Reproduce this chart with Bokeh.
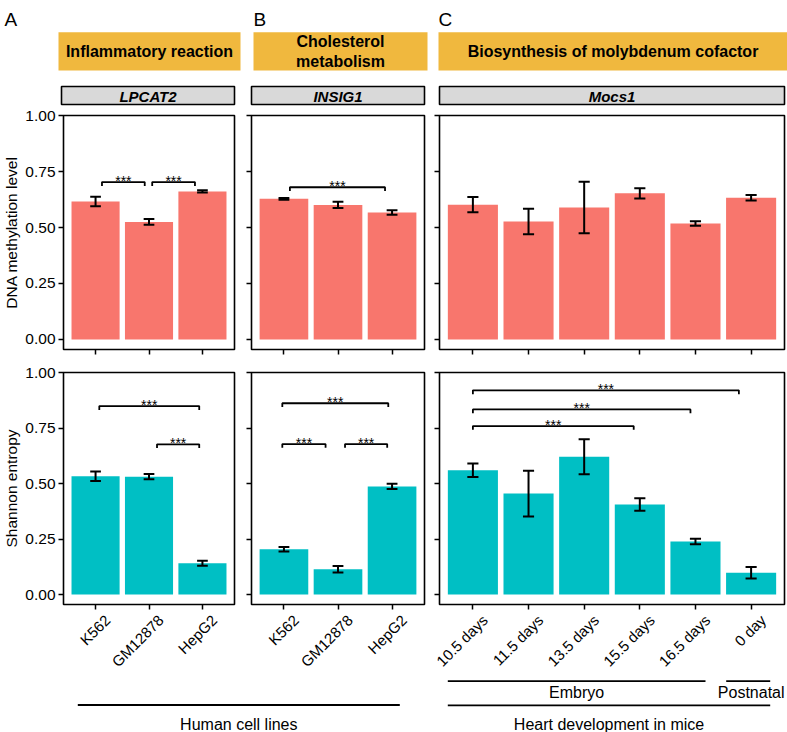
import math
from bokeh.plotting import figure
from bokeh.models import (Range1d, FixedTicker, NumeralTickFormatter, CustomLabelingPolicy,
                          LinearAxis)
from bokeh.layouts import column, row
from bokeh.embed import file_html
from bokeh.resources import INLINE
from bokeh.core.properties import value

FONT = "Liberation Sans"
SALMON = "#F8766D"
TEAL = "#00BFC4"
ORANGE = "#F0B83E"
STRIP = "#D9D9D9"

# ---------------- data ----------------
cell_lines = ["K562", "GM12878", "HepG2"]
stages = ["10.5 days", "11.5 days", "13.5 days", "15.5 days", "16.5 days", "0 day"]

a_meth = [0.616, 0.525, 0.661]
a_meth_err = [0.021, 0.013, 0.005]
a_ent = [0.533, 0.531, 0.141]
a_ent_err = [0.021, 0.012, 0.011]

b_meth = [0.628, 0.601, 0.567]
b_meth_err = [0.004, 0.014, 0.010]
b_ent = [0.204, 0.114, 0.487]
b_ent_err = [0.010, 0.015, 0.012]

c_meth = [0.602, 0.527, 0.589, 0.653, 0.518, 0.633]
c_meth_err = [0.034, 0.057, 0.115, 0.023, 0.010, 0.012]
c_ent = [0.560, 0.455, 0.621, 0.406, 0.239, 0.098]
c_ent_err = [0.030, 0.103, 0.079, 0.028, 0.012, 0.026]

# significance brackets: (start, end, height) in category units / value units
a_meth_sig = [(1.12, 1.92, 0.703), (2.06, 2.86, 0.703)]
a_ent_sig = [(1.07, 2.94, 0.849), (2.15, 2.94, 0.677)]
b_meth_sig = [(1.11, 2.87, 0.680)]
b_ent_sig = [(0.97, 2.93, 0.862), (0.97, 1.77, 0.678), (2.13, 2.91, 0.678)]
c_meth_sig = []
c_ent_sig = [(1.0, 5.78, 0.920), (1.0, 4.91, 0.834), (1.0, 3.89, 0.759)]

y_ticks = [0.0, 0.25, 0.5, 0.75, 1.0]

headers = ["Inflammatory reaction", "Cholesterol\nmetabolism", "Biosynthesis of molybdenum cofactor"]
genes = ["LPCAT2", "INSIG1", "Mocs1"]
letters = ["A", "B", "C"]

# ---------------- layout constants ----------------
TOTAL_W = 787
A_LB, A_FW, A_RB = 61, 173, 2
B_LB, B_FW, B_RB = 15, 173, 2
C_LB, C_FW, C_RB = 13, 345, 2
A_W = A_LB + A_FW + A_RB
B_W = B_LB + B_FW + B_RB
C_W = C_LB + C_FW + C_RB
FRAMES = [(A_LB, A_LB + A_FW),
          (A_W + B_LB, A_W + B_LB + B_FW),
          (A_W + B_W + C_LB, A_W + B_W + C_LB + C_FW)]

FRAME_H = 234
TOP_TB, TOP_BB = 8, 11
BOT_TB, BOT_BB = 12, 73
HDR_H = 107
FTR_H = 732 - HDR_H - (TOP_TB + FRAME_H + TOP_BB) - (BOT_TB + FRAME_H + BOT_BB)
Y0 = -0.045
LABEL_SHIFT_PX = 12  # rotated tick labels sit to the right of their ticks


def panel(cats, vals, errs, sigs, color, width, lb, rb, fw, ylab, bottom_row):
    n = len(cats)
    tb, bb = (BOT_TB, BOT_BB) if bottom_row else (TOP_TB, TOP_BB)
    p = figure(width=width, height=tb + FRAME_H + bb,
               x_range=Range1d(0.4, n + 0.6), y_range=Range1d(Y0, 1.0005),
               output_backend="svg", toolbar_location=None,
               min_border_left=lb, min_border_right=rb,
               min_border_top=tb, min_border_bottom=bb)
    p.background_fill_color = "white"
    p.border_fill_color = "white"
    p.outline_line_color = "black"
    p.outline_line_width = 1.6
    p.grid.visible = False

    xs = list(range(1, n + 1))
    p.vbar(x=xs, top=vals, bottom=0, width=0.9, fill_color=color, line_color=None)
    lo = [v - e for v, e in zip(vals, errs)]
    hi = [v + e for v, e in zip(vals, errs)]
    cw = 0.1
    p.segment(x0=xs, y0=lo, x1=xs, y1=hi, line_color="black", line_width=2)
    p.segment(x0=[x - cw for x in xs], y0=lo, x1=[x + cw for x in xs], y1=lo,
              line_color="black", line_width=2)
    p.segment(x0=[x - cw for x in xs], y0=hi, x1=[x + cw for x in xs], y1=hi,
              line_color="black", line_width=2)

    drop = 0.017
    for (s, e, h) in sigs:
        p.line(x=[s, s, e, e], y=[h - drop, h, h, h - drop], line_color="black", line_width=1.8)
        p.text(x=[(s + e) / 2], y=[h], text=["***"], text_align="center",
               text_baseline="alphabetic", text_font_size="14px", y_offset=-1,
               text_font=value(FONT), text_color="black")

    # x axis: ticks only
    xa = p.xaxis[0]
    xa.ticker = FixedTicker(ticks=xs)
    xa.axis_line_color = None
    xa.major_tick_out = 5
    xa.major_tick_in = 0
    xa.major_tick_line_width = 1.5
    xa.major_tick_line_color = "black"
    xa.minor_tick_line_color = None
    xa.major_label_text_font_size = "0px"
    xa.major_label_standoff = 0
    xa.major_label_policy = CustomLabelingPolicy(code="return []")

    if bottom_row:
        # second axis carrying the rotated category labels, nudged right of the ticks
        d = LABEL_SHIFT_PX * (n + 0.2) / fw
        p.extra_x_ranges = {"lab": Range1d(0.4 - d, n + 0.6 - d)}
        ax2 = LinearAxis(x_range_name="lab", ticker=FixedTicker(ticks=xs),
                         major_label_overrides={i + 1: c for i, c in enumerate(cats)})
        ax2.axis_line_color = None
        ax2.major_tick_line_color = None
        ax2.major_tick_out = 0
        ax2.major_tick_in = 0
        ax2.minor_tick_line_color = None
        ax2.major_label_orientation = math.pi / 4
        ax2.major_label_text_font_size = "15px"
        ax2.major_label_text_font = FONT
        ax2.major_label_text_color = "black"
        ax2.major_label_standoff = 8
        p.add_layout(ax2, "below")

    # y axis
    ya = p.yaxis[0]
    ya.ticker = FixedTicker(ticks=y_ticks)
    ya.formatter = NumeralTickFormatter(format="0.00")
    ya.axis_line_color = None
    ya.major_tick_out = 5
    ya.major_tick_in = 0
    ya.major_tick_line_width = 1.5
    ya.major_tick_line_color = "black"
    ya.minor_tick_line_color = None
    if ylab:
        ya.axis_label = ylab
        ya.axis_label_text_font_size = "15.5px"
        ya.axis_label_text_font = FONT
        ya.axis_label_text_font_style = "normal"
        ya.axis_label_text_color = "black"
        ya.axis_label_standoff = 2
        ya.major_label_text_font_size = "15.5px"
        ya.major_label_text_font = FONT
        ya.major_label_text_color = "black"
        ya.major_label_standoff = 3
    else:
        ya.major_label_text_font_size = "0px"
        ya.major_label_standoff = 0
        ya.major_label_policy = CustomLabelingPolicy(code="return []")
    return p


a1 = panel(cell_lines, a_meth, a_meth_err, a_meth_sig, SALMON, A_W, A_LB, A_RB, A_FW, "DNA methylation level", False)
b1 = panel(cell_lines, b_meth, b_meth_err, b_meth_sig, SALMON, B_W, B_LB, B_RB, B_FW, None, False)
c1 = panel(stages, c_meth, c_meth_err, c_meth_sig, SALMON, C_W, C_LB, C_RB, C_FW, None, False)
a2 = panel(cell_lines, a_ent, a_ent_err, a_ent_sig, TEAL, A_W, A_LB, A_RB, A_FW, "Shannon entropy", True)
b2 = panel(cell_lines, b_ent, b_ent_err, b_ent_sig, TEAL, B_W, B_LB, B_RB, B_FW, None, True)
c2 = panel(stages, c_ent, c_ent_err, c_ent_sig, TEAL, C_W, C_LB, C_RB, C_FW, None, True)


def canvas(h):
    p = figure(width=TOTAL_W, height=h, x_range=Range1d(0, TOTAL_W), y_range=Range1d(h, 0),
               x_axis_location=None, y_axis_location=None, toolbar_location=None,
               output_backend="svg", min_border=0)
    p.outline_line_color = None
    p.grid.visible = False
    p.background_fill_color = "white"
    p.border_fill_color = "white"
    return p


# ---------------- header ----------------
hdr = canvas(HDR_H)
orange_l = [FRAMES[0][0] - 3, FRAMES[1][0] + 2, FRAMES[2][0] - 1]
orange_r = [FRAMES[0][1] + 6, FRAMES[1][1] + 3, TOTAL_W]
hdr.quad(left=orange_l, right=orange_r, top=[31.7] * 3, bottom=[70] * 3,
         fill_color=ORANGE, line_color=None)
hdr.text(x=[(l + r) / 2 for l, r in zip(orange_l, orange_r)], y=[51] * 3, text=headers,
         text_align="center", text_baseline="middle", text_font_size="16px",
         text_font=value(FONT), text_font_style="bold", text_color="black",
         text_line_height=1.15)
hdr.quad(left=[f[0] for f in FRAMES], right=[f[1] for f in FRAMES], top=[86] * 3,
         bottom=[104] * 3, fill_color=STRIP, line_color="black", line_width=1.6)
hdr.text(x=[(f[0] + f[1]) / 2 for f in FRAMES], y=[95.5] * 3, text=genes,
         text_align="center", text_baseline="middle", text_font_size="15px",
         text_font=value(FONT), text_font_style="bold italic", text_color="black")
hdr.text(x=[4, FRAMES[1][0] + 2, FRAMES[2][0] - 1], y=[18.5] * 3, text=letters,
         text_align="left", text_baseline="alphabetic", text_font_size="19px",
         text_font=value(FONT), text_color="black")

# ---------------- footer ----------------
ftr = canvas(FTR_H)
hl_l = FRAMES[0][0] + 16.3
hl_r = FRAMES[1][1] - 24.7
hv_l = FRAMES[2][0] + 8.3
hv_r = FRAMES[2][1] - 14.3
emb_r = FRAMES[2][0] + 266
post_l = FRAMES[2][0] + 286.7
ftr.segment(x0=[hl_l, hv_l, hv_l, post_l], x1=[hl_r, hv_r, emb_r, hv_r],
            y0=[25.5, 25.8, 1.7, 1.7], y1=[25.5, 25.8, 1.7, 1.7],
            line_color="black", line_width=1.8)
ftr.text(x=[(hl_l + hl_r) / 2, (hv_l + hv_r) / 2, (hv_l + emb_r) / 2, (post_l + hv_r) / 2 + 3],
         y=[44.5, 44.5, 12.5, 12.5],
         text=["Human cell lines", "Heart development in mice", "Embryo", "Postnatal"],
         text_align="center", text_baseline="middle", text_font_size="16px",
         text_font=value(FONT), text_color="black")

layout = column(hdr, row(a1, b1, c1), row(a2, b2, c2), ftr)

html = file_html(layout, INLINE)
open("out.html", "w").write(html)
